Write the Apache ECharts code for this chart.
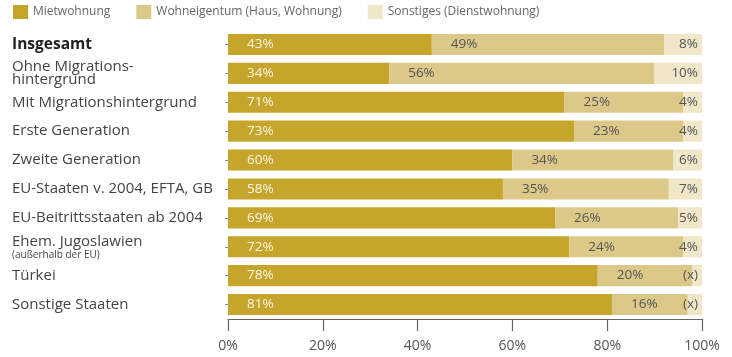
<!DOCTYPE html>
<html>
<head>
<meta charset="utf-8">
<script src="https://cdn.jsdelivr.net/npm/echarts@6/dist/echarts.min.js"></script>
<style>
  html, body { margin: 0; padding: 0; background: #fff; }
  #chart { width: 732px; height: 357px; }
</style>
</head>
<body>
<div id="chart"></div>
<script>
// Wohnsituation nach Migrationshintergrund (Anteile in %)
var categories = [
  'Insgesamt',
  'Ohne Migrations-\nhintergrund',
  'Mit Migrationshintergrund',
  'Erste Generation',
  'Zweite Generation',
  'EU-Staaten v. 2004, EFTA, GB',
  'EU-Beitrittsstaaten ab 2004',
  'Ehem. Jugoslawien\n(außerhalb der EU)',
  'Türkei',
  'Sonstige Staaten'
];
var seriesNames = ['Mietwohnung', 'Wohneigentum (Haus, Wohnung)', 'Sonstiges (Dienstwohnung)'];
var mietwohnung   = [43, 34, 71, 73, 60, 58, 69, 72, 78, 81];
var wohneigentum  = [49, 56, 25, 23, 34, 35, 26, 24, 20, 16];
var sonstiges     = [8, 10, 4, 4, 6, 7, 5, 4, 2, 3];
// Werte mit zu geringer Fallzahl werden als (x) ausgewiesen
var sonstigesText = ['8%', '10%', '4%', '4%', '6%', '7%', '5%', '4%', '(x)', '(x)'];
var xTicks = [0, 20, 40, 60, 80, 100];

var FONT = '"Open Sans", "DejaVu Sans", sans-serif';
var colors = ['#c5a52b', '#dcc98a', '#f1e6c8'];

function categoryLabel(v) {
  if (v === 'Insgesamt') return '{b|' + v + '}';
  if (v.indexOf('Ehem.') === 0) {
    var parts = v.split('\n');
    return '{n|' + parts[0] + '}\n{s|' + parts[1] + '}';
  }
  if (v.indexOf('\n') >= 0) {
    return v.split('\n').map(function (p) { return '{t|' + p + '}'; }).join('\n');
  }
  return '{n|' + v + '}';
}

var chart = echarts.init(document.getElementById('chart'), null, { renderer: 'canvas' });
chart.setOption({
  animation: false,
  textStyle: { fontFamily: FONT },
  color: colors,
  legend: {
    left: 13,
    top: 5,
    padding: 0,
    itemWidth: 15,
    itemHeight: 14,
    itemGap: 26,
    icon: 'rect',
    textStyle: { fontFamily: FONT, fontSize: 12, color: '#666' },
    data: seriesNames
  },
  grid: { left: 228, right: 30, top: 30, bottom: 38 },
  xAxis: {
    type: 'value',
    min: xTicks[0],
    max: xTicks[xTicks.length - 1],
    interval: 20,
    splitLine: { show: false },
    axisLine: { show: true, lineStyle: { color: '#666', width: 1.2 } },
    axisTick: { show: true, length: 12, lineStyle: { color: '#666', width: 1.2 } },
    axisLabel: {
      margin: 20,
      fontFamily: FONT,
      fontSize: 14,
      color: '#555',
      formatter: function (v) { return v + '%'; }
    }
  },
  yAxis: {
    type: 'category',
    inverse: true,
    data: categories,
    axisLine: { show: false },
    axisTick: { show: true, alignWithLabel: true, length: 3, lineStyle: { color: '#888' } },
    axisLabel: {
      align: 'left',
      margin: 216,
      fontFamily: FONT,
      formatter: categoryLabel,
      rich: {
        b: { fontFamily: FONT, fontSize: 15.5, fontWeight: 'bold', color: '#222' },
        n: { fontFamily: FONT, fontSize: 15, color: '#444', lineHeight: 16 },
        t: { fontFamily: FONT, fontSize: 15, color: '#444', lineHeight: 12.5 },
        s: { fontFamily: FONT, fontSize: 10, color: '#444', lineHeight: 11 }
      }
    }
  },
  series: [
    {
      name: seriesNames[0],
      type: 'bar',
      stack: 'total',
      barCategoryGap: '27%',
      data: mietwohnung,
      label: {
        show: true,
        position: 'insideLeft',
        distance: 19,
        fontFamily: FONT,
        fontSize: 13.5,
        color: '#fbf6e6',
        formatter: function (p) { return p.value + '%'; }
      }
    },
    {
      name: seriesNames[1],
      type: 'bar',
      stack: 'total',
      data: wohneigentum,
      label: {
        show: true,
        position: 'insideLeft',
        distance: 19,
        fontFamily: FONT,
        fontSize: 13.5,
        color: '#555',
        formatter: function (p) { return p.value + '%'; }
      }
    },
    {
      name: seriesNames[2],
      type: 'bar',
      stack: 'total',
      data: sonstiges,
      label: {
        show: true,
        position: 'insideRight',
        distance: 4,
        fontFamily: FONT,
        fontSize: 13.5,
        color: '#555',
        formatter: function (p) { return sonstigesText[p.dataIndex]; }
      }
    }
  ]
});
</script>
</body>
</html>
